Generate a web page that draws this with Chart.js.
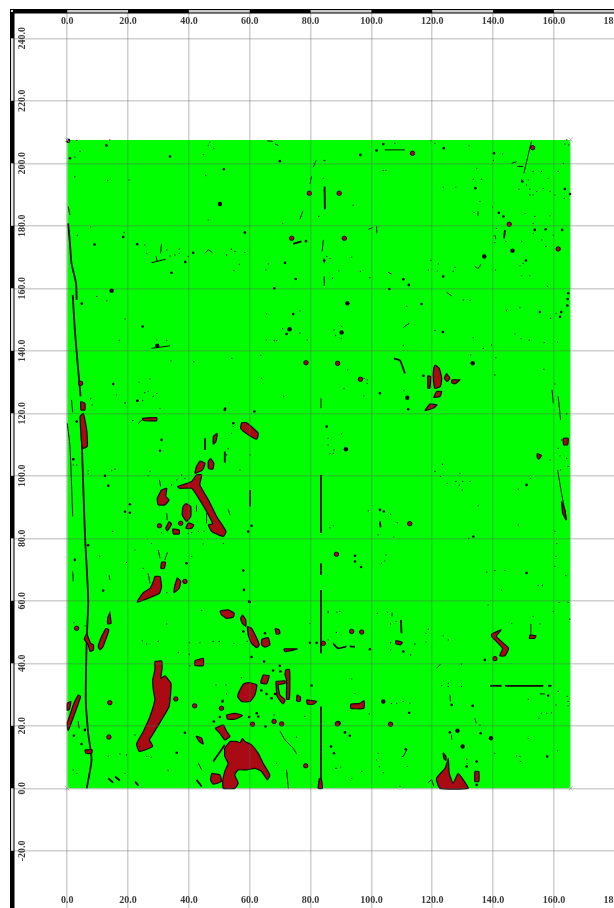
<!DOCTYPE html>
<html>
<head>
<meta charset="utf-8">
<title>Map</title>
<script src="https://cdn.jsdelivr.net/npm/chart.js@4"></script>
<style>
    html, body { margin: 0; padding: 0; background: #fff; overflow: hidden; width: 614px; height: 908px; }
    canvas { display: block; filter: blur(0.35px); }
</style>
</head>
<body>
<canvas id="map" width="640" height="908"></canvas>
<script>
const xTicks = [0, 20, 40, 60, 80, 100, 120, 140, 160, 180];
const yTicks = [-20, 0, 20, 40, 60, 80, 100, 120, 140, 160, 180, 200, 220, 240];
const surveyedCorners = [[0, 0], [165.5, 0], [165.5, 207.5], [0, 207.5]];
const surveyedTop = [[0, 207.5], [165.5, 207.5]];

const redPatches = [
    [[28.8,40.6],[31,40.8],[31.2,38.4],[30.8,35.2],[32.1,36],[34.1,33.6],[34,30.4],[33.5,26.2],[31,21.9],[27.7,16.6],[27,15.5],[28.1,13.4],[23.7,11.8],[22.8,14.2],[25,18.2],[27.2,23],[28.8,28.3],[28.3,31.5],[28.1,34.7],[28.8,37.9],[28.8,40.6]],
    [[53.5,15],[55.7,15],[56.8,14.6],[57.6,16],[58.4,15],[60.6,13.9],[62.8,11.2],[64.4,8],[66.6,4.3],[65.8,2.7],[63.9,5.4],[61.7,6.4],[59,5.9],[56.2,5.9],[55.1,4.3],[56.2,1.6],[55.1,0],[51.3,0],[51.1,2.2],[51.8,5.4],[52.9,8],[51.8,10.2],[51.8,12.8],[53.5,15]],
    [[57.9,33.4],[59.5,33.8],[62.3,33.1],[61.7,29.9],[60.1,27.8],[57.3,27.8],[56,29.4],[56.8,31.5],[57.9,33.4]],
    [[59.2,51.8],[60.6,51.2],[62.3,48],[63.1,45.9],[62.3,45],[60.6,46.4],[59.5,49.1],[59.2,51.8]],
    [[50.2,56.8],[52.9,57.1],[54.9,56],[54.6,54.8],[52.4,54.4],[50.7,55.5],[50.2,56.8]],
    [[57.6,55.5],[58.7,53.9],[58.7,51.8],[57.6,52.8],[57,54.4],[57.6,55.5]],
    [[63.9,47.7],[66.1,48.2],[66.6,45.9],[65,45.2],[63.9,45.9],[63.9,47.7]],
    [[68.3,51.2],[69.7,50.7],[69.9,49.6],[68.8,49.3],[68.3,51.2]],
    [[71.2,44.6],[75.6,44.6],[73.2,44],[71.6,43.7],[71.2,44.6]],
    [[12.7,51.2],[13.7,50.7],[11.8,45.4],[10.8,44.3],[10.2,45.4],[11.3,48.6],[12.7,51.2]],
    [[14,56.2],[14.4,52.8],[13.3,52.6],[13.3,54.4],[14,56.2]],
    [[6.4,49.6],[7.7,46.4],[8.6,45.9],[8.6,44.3],[7.5,43.8],[6.9,45.9],[5.6,47.7],[6.4,49.6]],
    [[3.6,29.9],[4.4,29.4],[2.5,24],[0.3,18.5],[0,20.8],[0.9,23.5],[2.2,27.2],[3.6,29.9]],
    [[0,27.2],[1.2,27.8],[0.7,25.3],[0,25],[0,27.2]],
    [[42,40.9],[44.7,41.6],[44.7,39.3],[42,39.3],[42,40.9]],
    [[48.6,19.2],[51.3,20.3],[52.4,18.2],[53.5,16.6],[51.8,15.5],[50.2,17.6],[48.6,19.2]],
    [[52.4,23.5],[55.1,24],[57.6,23.3],[55.1,22.1],[52.6,22.2],[52.4,23.5]],
    [[47.5,4.8],[50.2,4.3],[50.7,2.2],[48,1.3],[47.1,2.7],[47.5,4.8]],
    [[42.3,16.8],[44.2,16],[44.7,14.1],[43.4,15],[42.3,16.8]],
    [[64.4,36.3],[66.4,36],[65.5,33.4],[63.6,33.8],[64.4,36.3]],
    [[71.8,37.9],[73,38.1],[73.2,35.2],[73,28.5],[72.1,28.5],[72.1,34.7],[71.6,36.3],[71.8,37.9]],
    [[68.6,34.2],[71.6,34.4],[71.6,33.6],[69.4,33.1],[69.9,29.9],[71.6,28.3],[71,27],[69,29.4],[68.6,34.2]],
    [[75.6,29.9],[76.7,29.2],[76.5,27.8],[75.4,28],[75.6,29.9]],
    [[78.7,28.3],[82,27.8],[80.9,26.9],[78.9,27],[78.7,28.3]],
    [[82.9,3.2],[83.6,2.7],[83.9,0],[82.5,0],[82.9,3.2]],
    [[5.8,12.3],[8.2,12.3],[8,11.2],[6.1,11.2],[5.8,12.3]],
    [[4.2,119],[5.3,120],[6.4,114.7],[6.6,109.4],[5,108.8],[4.4,114.7],[4.2,119]],
    [[4.4,123.8],[5.8,123.2],[5.8,121.1],[4.5,121.1],[4.4,123.8]],
    [[36.2,96.6],[40.9,98.2],[42.5,100.3],[44.2,100.3],[43.6,97.1],[46.4,92.3],[49.1,87],[52.2,82.2],[51.3,80.6],[47.5,82.2],[46.4,84.3],[47.8,84.6],[45.8,88.6],[42.5,93.9],[40.9,96],[37,96],[36.2,96.6]],
    [[31,95.5],[32.7,96],[32.4,93.4],[33.5,92.3],[32.1,90.7],[29.9,90.7],[29.6,92.8],[31,95.5]],
    [[39,91.2],[40.6,90.2],[40.6,87],[39.2,85.4],[37.8,87.5],[38.1,90.2],[39,91.2]],
    [[43.6,104.8],[45.3,104],[44.5,101.9],[42,100.8],[42.5,103],[43.6,104.8]],
    [[47.1,105.6],[48.2,104],[47.8,102.1],[46.4,102.4],[46.4,104.6],[47.1,105.6]],
    [[57.3,117],[59,117],[62.8,113.6],[62.3,111.7],[59.5,113.1],[57,115.2],[57.3,117]],
    [[24.7,118.4],[29.4,118.6],[29.4,117.6],[25,117.7],[24.7,118.4]],
    [[48,112.6],[49.3,113.6],[48.9,111],[48,110.1],[48,112.6]],
    [[33.5,85.4],[34.3,84.6],[32.9,82.4],[32.4,83.2],[33.5,85.4]],
    [[34.6,83],[36.8,82.7],[36.8,81.4],[34.9,81.4],[34.6,83]],
    [[39.8,85],[41.6,84.3],[40.9,83.2],[39,83.2],[39.8,85]],
    [[28.8,67.8],[30.5,67.8],[31,64.6],[30.3,62.4],[26.6,60.8],[23,59.6],[25,62.6],[27.2,64],[28.3,66.2],[28.8,67.8]],
    [[36.2,67.4],[37.3,66.2],[36.8,64],[35.1,62.6],[35.4,65],[36.2,67.4]],
    [[31,72.4],[32.3,72.4],[31.9,70.4],[30.8,70.4],[31,72.4]],
    [[120.9,135.5],[122.3,134.4],[123.1,131.2],[122.7,128.6],[120.9,128],[120.3,131.8],[120.5,134.4],[120.9,135.5]],
    [[118.5,132],[119.5,131.8],[119.2,128],[118.6,128],[118.5,132]],
    [[124.7,132.8],[125.8,131.2],[124.9,130.2],[124,131.2],[124.7,132.8]],
    [[126.4,130.7],[129.1,130.7],[127.4,129.4],[126.4,129.8],[126.4,130.7]],
    [[121.4,127],[123.1,127],[122.5,125.4],[120.5,125.1],[121.4,127]],
    [[119.2,123],[121.6,122.7],[120.3,121.6],[117.6,120.9],[119.2,123]],
    [[139.5,49.4],[142.6,50.7],[141.1,48.6],[145.1,44.8],[143.9,42.4],[142.2,42.4],[143.1,44.8],[139.5,48.6],[139.5,49.4]],
    [[152.1,49.1],[154.1,48.8],[153.7,48],[151.9,48],[152.1,49.1]],
    [[93.2,27],[96.2,27.2],[97.6,28.1],[97.5,25.6],[93.2,25.6],[93.2,27]],
    [[125.3,9.6],[125.6,4.8],[126.9,1.6],[128.5,4.8],[130.2,2.7],[131.8,0],[122.5,0],[121.4,3.2],[124.2,6.4],[125.3,9.6]],
    [[123.6,11.4],[124.5,10.2],[124.5,8.9],[123.8,9.6],[123.6,11.4]],
    [[134,5.4],[135.3,5.4],[135.3,2.2],[134,2.2],[134,5.4]],
    [[163,112],[164.7,112],[164.5,110],[163.2,109.9],[163,112]],
    [[154.5,107.2],[155.9,106.5],[155,105.3],[154.5,106],[154.5,107.2]],
    [[162.5,91.8],[163.6,89.1],[164,85.9],[162.9,88],[162.5,91.8]],
    [[108,47.3],[110.2,46.7],[109.5,45.9],[108,46.3],[108,47.3]]
];

const redDots = [
    [3.1,51.2],[14,27.4],[13.7,16.4],[41.9,26.4],[50.7,25.6],[60.9,20.5],[68,21.4],[70.5,20.6],[78.4,7.2],[88.8,20.6],
    [35.7,28.6],[84.2,46.4],[79.6,190.4],[73.8,176],[78.5,136.2],[4.4,129.6],[37.3,84.8],[30.3,84],[38.7,66.2],
    [145.3,180.5],[161.4,172.6],[89.4,190.4],[91.1,176],[96.4,130.9],[88.9,136],[113.5,203.2],[153,205],
    [140.6,41.5],[89.1,20.8],[106.3,20.5],[112.6,84.7],[88.5,74.9],[93.5,50.2],[96.8,50]
];

const largeSpecks = [
    [0.3,207.2],[29.6,141.6],[50.2,187],[14.6,159.2],[73.1,146.9],[111.8,125],[92.1,155.2],[91.6,108.5],[90.2,145.9],
    [103.9,27.8],[128.3,18.4],[130,13.4],[139.3,16],[133.3,136],[146.4,172],[137.1,170.2]
];

const mediumSpecks = [
    [12.9,205.7],[0.9,201.6],[33.8,202.2],[51.5,198.1],[18.4,176.4],[9,174],[23,174.1],[58.4,177.9],[41.4,171.4],[38.8,168.4],
    [34.3,165],[4.8,155.1],[24.8,147.8],[15.1,129.4],[23.1,124],[51.9,121.5],[69.9,200.7],[68.1,160],[75.1,163],[72.1,145.4],
    [74.3,151.8],[84.5,168.9],[78.5,175.1],[71.6,168.2],[96.4,202.7],[103.9,206.2],[123.8,204.8],[101.7,204.1],[134.2,192],
    [163.6,191.8],[165.3,190.2],[123.6,163.8],[110.5,162.9],[112.3,161.1],[105.9,159.8],[116.5,155],[123.5,146],[155.4,152.4],
    [164.7,158.4],[164.5,156.6],[164.4,154.5],[162,150.9],[162.4,152.4],[102.8,126.4],[112.1,121.3],[162.7,178.7],[157.3,178.9],
    [153.7,178.7],[150.8,168.9],[117.1,132],[140.3,203.2],[143.4,183],[141.9,184.2],[149.6,194.2],[133.5,80.6],[151,97.1],
    [151,68.9],[94.6,74.4],[94.6,72.6],[96.6,70.8],[99.5,44.5],[110.5,43.8],[137.3,41.1],[112.4,24.2],[126.4,26.7],[133.3,26.4],
    [158.1,29.6],[91.3,17.9],[92.9,16.8],[86.7,13.4],[87.7,11.2],[125.8,17.9],[135.9,17.6],[111.3,12.5],[131.3,7],[134.6,8.6],
    [157.8,10.2],[134.6,1.1],[23,124],[13.5,96.8],[12.4,100],[2,105.3],[3.1,117.4],[20.6,90.9],[19,88.5],[20.6,88.2],[39.2,72],
    [11.8,63.3],[60,59.6],[30.5,108],[51.8,121.1],[61.5,120.6],[31,111.5],[2.5,73.1],[6.9,77.8],[54.6,116.8],[59.5,82.2],
    [57.9,69.7],[58.1,63.5],[60.6,84],[36,11.4],[38.7,17.8],[4.7,14.2],[5.8,18.7],[2.2,16.8],[59.8,59.8],[65,49.6],[57.9,50.2],
    [51,27.8],[48.2,21.4],[50.2,22.8],[59.8,22.8],[62.8,23],[62.3,24],[65.2,19.8],[60.6,42],[64.7,40.6],[67.7,37.7],[69.9,39.2],
    [70.1,37.4],[63.8,31.3],[65.5,30.2],[67.2,28.8],[68.3,30.2],[80.3,32.9],[79.8,46.6],[82,46.6],[85.3,115.8],[102.8,89.1],[104.1,88.6]
];

const smallSpecks = [
    [3.1,207.3],[14,207.5],[4.2,203.8],[2.5,202],[2.5,195.7],[13.3,194.5],[20.3,194.7],[45.5,196.1],[44.7,202.8],[46.9,206.8],
    [46.4,205.7],[48.2,204.8],[46.4,181.9],[7.7,179.6],[18.7,177.9],[3.3,177],[25.5,173.9],[70.8,180.8],[82.7,183],[84.5,191.2],
    [84.2,195.2],[84.7,200.9],[54,172.5],[55.1,171.8],[58.4,171.5],[52.4,170.7],[56.6,167.7],[54.8,165.7],[66.1,167.8],[65.3,165.9],
    [9.7,157.4],[13,156],[19,150.2],[17.1,143.3],[34.1,136.8],[41.6,136.5],[54.1,137.6],[63.6,138.6],[63.9,131.2],[71.2,125.4],
    [65.5,151.8],[76.5,152.8],[70.8,147.1],[76.5,145.7],[65.5,143.5],[68.1,143.3],[68.8,143.3],[78.9,143.5],[23.6,130],[27.2,131],
    [25.5,126.6],[26.6,127],[29.4,126.4],[28.3,125.4],[16.2,125.9],[19,123.2],[7.7,124.7],[24.8,124.1],[30.5,121.6],[32.7,172.3],
    [36.8,172.5],[26.1,171.2],[33.8,170.4],[35.4,170.7],[36.8,171.2],[39.8,170.2],[32.7,143.3],[29.4,143.5],
    [84.4,200.9],[103.9,197.7],[104.8,197.7],[107.7,206.4],[120.9,206.4],[119.6,207.2],[132.1,205.6],[143.1,203],[140.1,200.9],
    [134.6,198.4],[133.5,194.9],[136.2,194.9],[123.6,192.4],[127.7,192.4],[94,186.6],[135.7,187.8],[133.7,184.3],[139.8,186],
    [153.7,183],[150.5,184],[158.7,183.2],[141.1,179.2],[153.2,180.8],[140.6,174.6],[149.4,175],[153.2,177.6],[156,175.5],
    [159.8,177],[144.2,175],[157.3,173.4],[93.5,170],[85.3,170.2],[86.4,169.6],[89.3,165.6],[96.4,165.4],[87.2,163.2],[99.5,163.4],
    [119.6,168.9],[122,167.8],[118.7,165.9],[121.7,165.6],[127.5,166.7],[126.9,165.4],[140.8,165.9],[148.8,167.2],[149.9,168],
    [149.4,164],[152.1,164],[157.9,160.6],[130.2,156.3],[132.4,156.1],[111.6,154.2],[144.4,152.9],[148.8,153.8],[158.9,150.4],
    [160.7,152],[120.9,146.5],[87.7,146.7],[88.2,144.9],[90.2,147.8],[90.1,144],[133.5,144.2],[147.2,145.4],[149.2,143.9],
    [151.9,143.4],[156.8,142.6],[161.2,142.8],[139.5,141.9],[136.8,140.8],[110.5,141.7],[132.6,138.7],[140.9,137.8],[156.7,134.1],
    [140.6,132.3],[92.2,133.9],[91,128],[97.5,125.6],[110.7,127.3],[97.6,131.2],[98.6,130.7],[98.6,129.6],[160.3,129.4],[164.2,119.8],
    [149.4,194.7],[151.6,194.7],[153.2,197.4],[155.9,197.4],[158.1,195.2],[156.5,192],[158.7,191],[154.3,191],[152.1,191.7],
    [152.1,189.9],[153.2,189.9],[148.5,191.7],[160.3,189.9],[163.4,188.8],[161.4,197.4],[151,193.1],[163.1,200],[164.2,207.5],
    [163.6,206.2],[164.9,205.9],[85.8,112],[85.8,109.9],[90.2,113.4],[86.4,107.2],[87.5,107.2],[87.7,108.3],[120.9,101.4],
    [123.4,103.7],[122.7,99.8],[124.9,97.6],[127.8,98.2],[130,98.2],[129.1,100.8],[128.9,97.1],[132.4,98.2],[129.9,95.5],
    [152.3,99.2],[148.3,95.7],[135.1,90.4],[148.3,84.3],[99,88.8],[106.3,87.7],[108.5,85],[107.4,80.4],[102.2,81.1],[87.5,84],
    [86.4,83.4],[132,80],[160.3,82.2],[160.9,78.4],[160.7,74.2],[160.3,71],[163.9,68.1],[154.8,64.9],[156.2,64.9],[142.8,63.5],
    [140.6,69.7],[143.9,69.7],[137.9,69.2],[138.4,58.7],[146.1,52.8],[153.2,55],[155.4,52.6],[159.8,56.6],[161.7,59.5],[164.7,59.5],
    [165.2,54.1],[104.8,74.7],[104.4,72.8],[103.3,72],[85.8,56.6],[88.6,56.4],[89.6,56.6],[101.9,56],[105.3,56.3],[106.3,52.6],
    [108.1,53.4],[88.5,49.9],[118.7,50.9],[117.9,49.6],[123.6,48.8],[125.3,47.5],[117.9,46.8],[114.3,46.2],[85.8,47.5],[106.3,46.6],
    [106.3,44.3],[112.9,42.7],[129.6,39.7],[123.1,32.9],[125.3,33.6],[125.3,32.6],[129.6,32.6],[93.5,35],[94.6,30.4],[106.6,27.2],
    [108.3,27.2],[110.5,27.8],[112.7,27.2],[99.3,23.8],[151.6,28.5],[161.4,31],[164.4,29.4],[164.7,27.8],[164.7,26.4],[160.7,26.7],
    [155.9,24],[157.6,24],[155.1,22.4],[159.2,24.2],[88.2,6.4],[89.9,6.8],[135.7,20.3],[110.2,10.2],[111.8,7],[102.2,11.2],[101.7,9.1],
    [102.6,6.9],[103.9,5],[96.8,5.4],[93.5,3.2],[131.3,9.3],[131.5,8],[148.8,10.2],[149,8.6],[147.7,10.4],[140.6,11.2],[161.2,12],
    [151.6,16],[109.4,0.6],[162.5,111.5],[161.4,108.8],[162,106.4],[164.2,105.6],[164.7,103],[162.2,101.9],[158.7,105.1],
    [8.2,122.7],[19,123.4],[3.1,103.5],[6.9,101.6],[6.9,100.6],[14.6,101.7],[15.7,102.1],[26.6,100],[27.2,101.4],[21.5,117.7],[2,103.5],
    [14.9,82.2],[27.7,78.4],[22.3,76.3],[10.7,74.2],[19.5,72.3],[25,70.4],[40.9,74.2],[32.7,62.6],[44.2,56.9],[56.8,101.9],[52.4,106.7],
    [54,113.6],[54.6,115.8],[52.9,108.8],[60.1,106.7],[37.6,100.3],[38.7,99.2],[36,98.7],[34.3,97.1],[51.3,78.4],[44.7,78.2],[40.9,81.8],
    [39.8,81.6],[43.1,82.2],[31,81.8],[45,82.2],[2.2,53],[5.8,52],[32.7,52.6],[24.7,47.2],[29.9,47],[26.1,46.2],[36.5,43.4],[40.1,46.6],
    [43.6,46.6],[48,47],[50,47],[54.8,46.4],[40.1,42.9],[40.3,39.2],[59.2,47],[48.9,33.1],[52.2,33.1],[52.4,30.2],[51.3,28.3],[57.3,35.4],
    [22.3,17.1],[23.9,13.4],[26.1,10.2],[27.7,10],[17.3,11],[19.5,10.7],[13.5,10.2],[19,4.8],[3.1,4.8],[2,5.9],[33.2,5.7],[78.1,23],
    [75.4,16.4],[68,23.5],[68.8,8],[86.9,13.4],[88.6,6.4],[87.5,11.2],[79.8,52.8],[85.8,56.2],[87.5,46.4],[89.1,44.8]
];

const heavyStreaks = [
    [[0.3,180.8],[0.9,174.4],[1.4,168],[2.9,161.6],[3.1,156.3]],
    [[1.8,157.9],[2.5,146.7],[3.6,133.9],[4.4,125.4]],
    [[4.7,113.6],[5.8,81.6],[6.9,60.3],[6.4,47.5],[6.1,28.3],[6.9,17.6],[8,9.1],[6.4,0]],
    [[83.4,100.3],[83.4,81.7]],
    [[83.4,72],[83.4,68.3]],
    [[83.4,63.5],[83.4,43.2]],
    [[83.4,26.2],[83.4,0]],
    [[143.9,178.7],[143.6,176]],
    [[102.8,85.4],[103,83.5]],
    [[60.1,95.5],[60.1,90.2]],
    [[51.8,107.8],[51.8,104.2]],
    [[45.3,112],[45.3,108.3]],
    [[139,32.8],[142.8,32.8]],
    [[143.9,32.8],[156.5,32.8]],
    [[158.1,32.8],[159.2,32.8]],
    [[87.5,46.2],[89.1,44.8],[91.8,45.4]],
    [[92.9,45.4],[94.6,45.3]],
    [[42.5,2.7],[44.2,0.6]],
    [[13.5,3.2],[15.1,1.8]],
    [[15.7,3.8],[17.3,2.5]],
    [[22.3,2.2],[23.4,0.8]],
    [[48,8.6],[51.8,13.9]],
    [[84.6,192.6],[84.7,185.3]],
    [[107.4,137.6],[109.4,136.9],[111,132.8]],
    [[74.3,174.2],[77,175]],
    [[109.7,53.9],[109.9,49.6]]
];

const fineStreaks = [
    [[0.3,186.2],[0.9,183.5]],
    [[0,116.8],[0.9,109.4],[1.8,87]],
    [[1.4,124.3],[1.8,120.3]],
    [[152.6,207],[150.1,196.8]],
    [[104.4,204.3],[111,204.3]],
    [[146.1,200],[147.7,200.5]],
    [[147.9,199],[149.9,199]],
    [[84.2,175.5],[83.8,171.8]],
    [[84.4,169.6],[84.5,168]],
    [[84.5,163.8],[84.5,160.8]],
    [[140.6,177],[140.9,175.7]],
    [[135.1,184.6],[135,183.2]],
    [[101.7,179.8],[101.8,177.6]],
    [[99,178.9],[100.4,179.4]],
    [[110.5,147.5],[112.4,148.8]],
    [[159.4,127.5],[159.8,123.2]],
    [[161.4,125.4],[162.2,117.9]],
    [[134,167],[135.1,166.4],[136,167.7]],
    [[124.7,158.7],[126.4,157.6]],
    [[105.5,165.1],[106.6,164.6]],
    [[161.2,101.9],[162.5,94.4],[164.2,85.9]],
    [[152.4,52.6],[152.4,49.1]],
    [[106.8,56.2],[106.8,55]],
    [[121.4,38.4],[122.7,39.7]],
    [[125.8,29.9],[126,27.8]],
    [[155.4,30.2],[157,30.2]],
    [[134,22.4],[134.5,20.8]],
    [[126.3,17.1],[126.4,15.6]],
    [[110.5,10.2],[111.6,12.3]],
    [[118.7,1.8],[119.8,2.7],[120.5,0.6]],
    [[27.7,168.2],[32.4,169.3]],
    [[29.2,170.2],[29.6,168.6]],
    [[30.7,171.2],[31,174.2]],
    [[45.3,171.2],[46.4,172.3],[47.7,171.4]],
    [[27.7,140.8],[33.8,141.6]],
    [[81.8,200.9],[80.9,198.8]],
    [[80.3,195.8],[79.8,193.4]],
    [[77.4,184.6],[76.5,182.1]],
    [[65.8,207.2],[67.7,207]],
    [[68.3,206.2],[69.4,205.7]],
    [[83.4,124.8],[83.4,121.6]],
    [[29.9,76.3],[30.5,73.6]],
    [[32.9,75.4],[32.1,73.1]],
    [[1.8,69.4],[2,66.2]],
    [[13.8,68.3],[14,66.7]],
    [[26.6,68.8],[27.2,65.6]],
    [[52.9,89.3],[53.5,87.5]],
    [[30.3,98.7],[30.7,96.6]],
    [[14,56.6],[13.8,53.9]],
    [[23.4,116.8],[24.8,118.1]],
    [[45.8,88],[45.8,84.8]],
    [[42.5,90.7],[42.5,88.6]],
    [[32.7,88],[32.9,85.7]],
    [[70,18.2],[71.6,15.5],[74.3,12.8],[75.4,11]],
    [[43.1,8],[44.2,5.9]],
    [[72.1,5.9],[72.7,0]],
    [[3.6,21.4],[3.9,19.2]]
];

const RED = '#aa0a14';
const OUTLINE = '#1a0505';
const GRID = 'rgba(95, 95, 95, 0.3)';
const LABEL = '#3a3a3a';
const LABEL_FONT = { family: '"Liberation Serif", serif', size: 10, weight: 'bold' };

const toPoints = (pairs) => pairs.map(([x, y]) => ({ x, y }));

const patchDataset = (pairs) => ({
    data: toPoints(pairs),
    showLine: true,
    isPatch: true,
    tension: 0.15,
    borderColor: OUTLINE,
    borderWidth: 1.2,
    backgroundColor: RED,
    pointRadius: 0
});

const streakDataset = (pairs, width) => ({
    data: toPoints(pairs),
    showLine: true,
    tension: 0.2,
    borderColor: OUTLINE,
    borderWidth: width,
    pointRadius: 0
});

const speckDataset = (pairs, radius) => ({
    data: toPoints(pairs),
    showLine: false,
    pointRadius: radius,
    pointBorderWidth: 0,
    pointBackgroundColor: '#050505'
});

// the line element only strokes here, the red inside is filled from its own path
const patchFill = {
    id: 'patchFill',
    beforeDatasetDraw(chart, args) {
        const dataset = chart.data.datasets[args.index];
        if (!dataset.isPatch) return;
        const { ctx, chartArea } = chart;
        ctx.save();
        ctx.beginPath();
        ctx.rect(chartArea.left, chartArea.top, chartArea.width, chartArea.height);
        ctx.clip();
        ctx.beginPath();
        args.meta.dataset.path(ctx);
        ctx.closePath();
        ctx.fillStyle = dataset.backgroundColor;
        ctx.fill();
        ctx.restore();
    }
};

// black and pale bands along the top and left edges, one band per 20 units
const bandFrame = {
    id: 'bandFrame',
    afterDraw(chart) {
        const { ctx, scales } = chart;
        const step = xTicks[1] - xTicks[0];
        ctx.save();
        ctx.fillStyle = '#000';
        ctx.fillRect(chart.chartArea.left, 9, chart.width, 4.5);
        ctx.fillRect(10, 9, 4.5, chart.height);
        ctx.fillStyle = '#c8c8c8';
        xTicks.filter((v, i) => i % 2 === 0).forEach(v => {
            const a = scales.x.getPixelForValue(v);
            const b = scales.x.getPixelForValue(v + step);
            ctx.fillRect(a, 10, b - a, 2.5);
        });
        ctx.fillStyle = '#e4e4e4';
        yTicks.filter((v, i) => i % 2 === 0).forEach(v => {
            const a = scales.y.getPixelForValue(v + step);
            const b = scales.y.getPixelForValue(v);
            ctx.fillRect(11, a, 2.5, b - a);
        });
        ctx.fillRect(11, 10, 2, 2);
        ctx.restore();
    }
};

const tickLabel = (v) => Number(v).toFixed(1);

// axes take no room of their own, the labels sit inside the plot
const flattenAxis = (axis) => {
    if (axis.isHorizontal()) axis.height = 0;
    else axis.width = 0;
    axis.paddingTop = axis.paddingBottom = axis.paddingLeft = axis.paddingRight = 0;
};

const xAxis = (position, padding) => ({
    type: 'linear',
    position,
    min: -17.5,
    max: 188.3,
    afterBuildTicks: axis => { axis.ticks = xTicks.map(value => ({ value })); },
    afterFit: flattenAxis,
    border: { display: false },
    grid: { color: GRID, lineWidth: 1.5, drawTicks: false, z: 1, drawOnChartArea: position === 'bottom' },
    ticks: { mirror: true, padding, color: LABEL, font: LABEL_FONT, maxRotation: 0, autoSkip: false, callback: tickLabel }
});

const yAxis = (position, padding) => ({
    type: 'linear',
    position,
    min: -38.3,
    max: 248.1,
    afterBuildTicks: axis => { axis.ticks = yTicks.map(value => ({ value })); },
    afterFit: flattenAxis,
    border: { display: false },
    grid: { color: GRID, lineWidth: 1.5, drawTicks: false, z: 1, drawOnChartArea: position === 'left' },
    ticks: { mirror: true, padding, color: LABEL, font: LABEL_FONT, crossAlign: 'center', minRotation: 90, maxRotation: 90, autoSkip: false, callback: tickLabel }
});

const datasets = [
    {
        data: toPoints(surveyedCorners),
        showLine: false,
        pointStyle: 'crossRot',
        pointRadius: 3,
        pointBorderWidth: 1,
        pointBorderColor: '#b9b9b9',
        clip: false
    },
    speckDataset(largeSpecks, 2.2),
    speckDataset(mediumSpecks, 1.3),
    speckDataset(smallSpecks, 0.65),
    ...redDots.map(p => ({
        data: toPoints([p]),
        showLine: false,
        pointRadius: 2.2,
        pointBorderWidth: 1,
        pointBorderColor: OUTLINE,
        pointBackgroundColor: RED
    })),
    ...redPatches.map(patchDataset),
    ...heavyStreaks.map(s => streakDataset(s, 1.8)),
    ...fineStreaks.map(s => streakDataset(s, 1)),
    {
        data: toPoints(surveyedTop),
        showLine: true,
        fill: 'origin',
        tension: 0,
        borderWidth: 0,
        backgroundColor: '#00ff00',
        pointRadius: 0
    }
];

new Chart(document.getElementById('map'), {
    type: 'scatter',
    data: { datasets },
    plugins: [patchFill, bandFrame],
    options: {
        responsive: false,
        animation: false,
        events: [],
        layout: { autoPadding: false, padding: { left: 14, top: 13, right: 0, bottom: 0 } },
        plugins: { legend: { display: false }, tooltip: { enabled: false }, title: { display: false } },
        scales: {
            x: xAxis('bottom', 2),
            x2: xAxis('top', 2),
            y: yAxis('left', -3),
            y2: yAxis('right', 16)
        }
    }
});
</script>
</body>
</html>
